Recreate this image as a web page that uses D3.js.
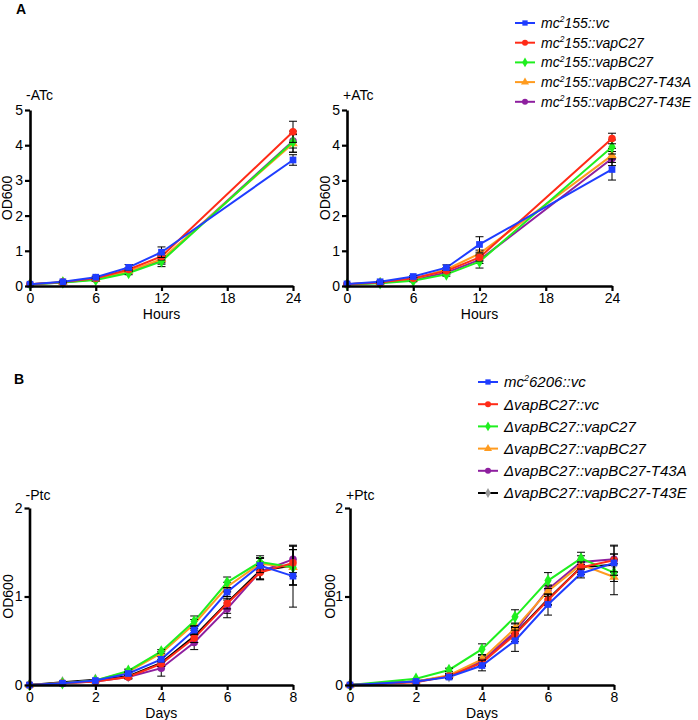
<!DOCTYPE html>
<html><head><meta charset="utf-8">
<script src="https://cdn.jsdelivr.net/npm/d3@7/dist/d3.min.js"></script>
<style>body{margin:0;background:#fff}svg{display:block;font-family:"Liberation Sans",Arial,sans-serif}</style>
</head><body><svg id="c" width="698" height="720"></svg>
<script>
// ---------- DATA ----------
const hoursA = [0, 3, 6, 9, 12, 24];
const daysBminus = [0, 1, 2, 3, 4, 5, 6, 7, 8];
const daysBplus = [0, 2, 3, 4, 5, 6, 7, 8];
const ticksHours = [0, 6, 12, 18, 24];
const ticksOD_A = [0, 1, 2, 3, 4, 5];
const ticksDays = [0, 2, 4, 6, 8];
const ticksOD_B = [0, 1, 2];

const namesA = [["mc", "155::vc"], ["mc", "155::vapC27"], ["mc", "155::vapBC27"], ["mc", "155::vapBC27-T43A"], ["mc", "155::vapBC27-T43E"]];
const namesB = [["mc", "6206::vc"], ["\u0394vapBC27::vc"], ["\u0394vapBC27::vapC27"], ["\u0394vapBC27::vapBC27"], ["\u0394vapBC27::vapBC27-T43A"], ["\u0394vapBC27::vapBC27-T43E"]];

// -ATc
const aMinusVc      = [0.05, 0.12, 0.25, 0.53, 0.96, 3.58];
const aMinusVapC    = [0.05, 0.11, 0.22, 0.47, 0.84, 4.38];
const aMinusVapBC   = [0.04, 0.10, 0.17, 0.37, 0.70, 4.10];
const aMinusT43A    = [0.05, 0.11, 0.20, 0.42, 0.76, 4.05];
const aMinusT43E    = [0.05, 0.10, 0.19, 0.40, 0.72, 4.12];
const aMinusVcErr   = [0.01, 0.02, 0.03, 0.08, 0.15, 0.15];
const aMinusVapCErr = [0.01, 0.02, 0.03, 0.05, 0.10, 0.30];
const aMinusVapBCErr= [0.01, 0.02, 0.03, 0.05, 0.15, 0.30];
const aMinusT43AErr = [0.01, 0.02, 0.03, 0.05, 0.10, 0.25];
const aMinusT43EErr = [0.01, 0.02, 0.03, 0.05, 0.10, 0.20];
// +ATc
const aPlusVc       = [0.06, 0.12, 0.27, 0.52, 1.18, 3.31];
const aPlusVapC     = [0.05, 0.10, 0.22, 0.43, 0.81, 4.19];
const aPlusVapBC    = [0.04, 0.08, 0.15, 0.33, 0.69, 3.95];
const aPlusT43A     = [0.05, 0.10, 0.20, 0.47, 0.92, 3.71];
const aPlusT43E     = [0.05, 0.09, 0.18, 0.38, 0.74, 3.62];
const aPlusVcErr    = [0.01, 0.02, 0.03, 0.08, 0.22, 0.30];
const aPlusVapCErr  = [0.01, 0.02, 0.03, 0.05, 0.10, 0.15];
const aPlusVapBCErr = [0.01, 0.02, 0.03, 0.05, 0.18, 0.20];
const aPlusT43AErr  = [0.01, 0.02, 0.03, 0.05, 0.10, 0.20];
const aPlusT43EErr  = [0.01, 0.02, 0.03, 0.05, 0.10, 0.20];
// -Ptc
const bMinusVc      = [0, 0.02, 0.05, 0.13, 0.29, 0.62, 1.05, 1.35, 1.23];
const bMinusVc2     = [0, 0.02, 0.04, 0.09, 0.24, 0.53, 0.92, 1.27, 1.38];
const bMinusVapC    = [0, 0.02, 0.05, 0.16, 0.38, 0.72, 1.16, 1.39, 1.33];
const bMinusVapBC   = [0, 0.02, 0.05, 0.15, 0.36, 0.69, 1.11, 1.37, 1.33];
const bMinusT43A    = [0, 0.02, 0.04, 0.09, 0.19, 0.48, 0.86, 1.28, 1.42];
const bMinusT43E    = [0, 0.03, 0.06, 0.10, 0.25, 0.55, 0.93, 1.29, 1.35];
const bMinusVcErr   = [0, 0.01, 0.01, 0.02, 0.03, 0.05, 0.05, 0.08, 0.35];
const bMinusVc2Err  = [0, 0.01, 0.01, 0.02, 0.03, 0.05, 0.06, 0.08, 0.15];
const bMinusVapCErr = [0, 0.01, 0.01, 0.02, 0.02, 0.06, 0.06, 0.07, 0.20];
const bMinusVapBCErr= [0, 0.01, 0.01, 0.02, 0.02, 0.05, 0.05, 0.07, 0.20];
const bMinusT43AErr = [0, 0.01, 0.01, 0.02, 0.09, 0.08, 0.10, 0.08, 0.15];
const bMinusT43EErr = [0, 0.01, 0.01, 0.02, 0.04, 0.07, 0.12, 0.10, 0.22];
// +Ptc
const bPlusVc       = [0, 0.04, 0.09, 0.22, 0.50, 0.91, 1.26, 1.38];
const bPlusVc2      = [0, 0.03, 0.10, 0.25, 0.57, 0.96, 1.33, 1.41];
const bPlusVapC     = [0, 0.07, 0.17, 0.405, 0.77, 1.18, 1.43, 1.27];
const bPlusVapBC    = [0, 0.04, 0.11, 0.29, 0.64, 1.06, 1.36, 1.22];
const bPlusT43A     = [0, 0.04, 0.10, 0.27, 0.60, 1.08, 1.39, 1.42];
const bPlusT43E     = [0, 0.04, 0.10, 0.26, 0.58, 0.97, 1.33, 1.36];
const bPlusVcErr    = [0, 0.01, 0.02, 0.06, 0.12, 0.12, 0.05, 0.10];
const bPlusVc2Err   = [0, 0.01, 0.02, 0.04, 0.08, 0.06, 0.06, 0.17];
const bPlusVapCErr  = [0, 0.01, 0.02, 0.06, 0.08, 0.09, 0.07, 0.10];
const bPlusVapBCErr = [0, 0.01, 0.02, 0.04, 0.06, 0.06, 0.05, 0.20];
const bPlusT43AErr  = [0, 0.01, 0.02, 0.04, 0.06, 0.05, 0.07, 0.15];
const bPlusT43EErr  = [0, 0.01, 0.02, 0.04, 0.06, 0.06, 0.08, 0.12];

// ---------- STYLE ----------
const colA = ["#1f3dff", "#ff2b17", "#1fef1f", "#ff9b1f", "#8e1f9f"];
const symA = [d3.symbolSquare, d3.symbolCircle, d3.symbolDiamond, d3.symbolTriangle, d3.symbolCircle];
const colB = ["#1f3dff", "#ff2b17", "#1fef1f", "#ff9b1f", "#8e1f9f", "#000000"];
const symB = [d3.symbolSquare, d3.symbolCircle, d3.symbolDiamond, d3.symbolTriangle, d3.symbolCircle, d3.symbolDiamond];
const markerFillB = ["#1f3dff", "#ff2b17", "#1fef1f", "#ff9b1f", "#8e1f9f", "#9a9a9a"];

const svg = d3.select("#c");

function panel(o) {
  const g = svg.append("g");
  const x = d3.scaleLinear().domain(o.xd).range(o.xr);
  const y = d3.scaleLinear().domain(o.yd).range(o.yr);
  for (let i = o.series.length - 1; i >= 0; i--) {
    const s = o.series[i];
    const pts = s.v.map((v, k) => ({x: o.xs[k], y: v, e: s.e[k]}));
    g.append("path").datum(pts)
      .attr("fill", "none").attr("stroke", s.c).attr("stroke-width", 2)
      .attr("d", d3.line().x(d => x(d.x)).y(d => y(d.y)));
    const eb = g.append("g").attr("stroke", "#000").attr("stroke-width", 1);
    pts.forEach(d => {
      if (d.e > 0.015) {
        eb.append("line").attr("x1", x(d.x)).attr("x2", x(d.x)).attr("y1", y(d.y - d.e)).attr("y2", y(d.y + d.e));
        [d.y - d.e, d.y + d.e].forEach(v => eb.append("line").attr("x1", x(d.x) - 4).attr("x2", x(d.x) + 4).attr("y1", y(v)).attr("y2", y(v)));
      }
    });
    g.append("g").selectAll("path").data(pts).join("path")
      .attr("transform", d => `translate(${x(d.x)},${y(d.y)})`)
      .attr("d", d3.symbol().type(s.sym).size(s.sym === d3.symbolTriangle ? 40 : 45))
      .attr("fill", s.mf || s.c);
  }
  const ax = g.append("g").attr("transform", `translate(0,${o.yr[0]})`)
    .call(d3.axisBottom(x).tickValues(o.xt).tickFormat(d3.format("d")).tickSize(5).tickPadding(2).tickSizeOuter(0));
  const ay = g.append("g").attr("transform", `translate(${o.xr[0]},0)`)
    .call(d3.axisLeft(y).tickValues(o.yt).tickFormat(d3.format("d")).tickSize(5).tickPadding(2).tickSizeOuter(0));
  [ax, ay].forEach(a => {
    a.select(".domain").attr("stroke", "#000").attr("stroke-width", 2.6);
    a.selectAll(".tick line").attr("stroke", "#000").attr("stroke-width", 2.2);
    a.selectAll("text").attr("font-size", 14).attr("fill", "#000").attr("font-family", '"Liberation Sans",Arial,sans-serif');
  });
  g.append("text").attr("x", (o.xr[0] + o.xr[1]) / 2).attr("y", o.xlabY).attr("text-anchor", "middle")
    .attr("font-size", 14).text(o.xlab);
  g.append("text").attr("transform", `translate(${o.ylabX},${(o.yr[0] + o.yr[1]) / 2}) rotate(-90)`)
    .attr("text-anchor", "middle").attr("font-size", 14).text("OD600");
  g.append("text").attr("x", o.xr[0] - 4).attr("y", o.titleY).attr("font-size", 14).text(o.title);
}

function mk(vals, errs, cols, syms, fills) {
  return vals.map((v, i) => ({v, e: errs[i], c: cols[i], sym: syms[i], mf: fills ? fills[i] : null}));
}

panel({xd: [0, 24], xr: [30, 293], yd: [0, 5], yr: [286, 110], xs: hoursA, xt: ticksHours, yt: ticksOD_A,
  xlab: "Hours", xlabY: 319, ylabX: 12, title: "-ATc", titleY: 100,
  series: mk([aMinusVc, aMinusVapC, aMinusVapBC, aMinusT43A, aMinusT43E], [aMinusVcErr, aMinusVapCErr, aMinusVapBCErr, aMinusT43AErr, aMinusT43EErr], colA, symA)});
panel({xd: [0, 24], xr: [347, 612], yd: [0, 5], yr: [286, 110], xs: hoursA, xt: ticksHours, yt: ticksOD_A,
  xlab: "Hours", xlabY: 319, ylabX: 330, title: "+ATc", titleY: 100,
  series: mk([aPlusVc, aPlusVapC, aPlusVapBC, aPlusT43A, aPlusT43E], [aPlusVcErr, aPlusVapCErr, aPlusVapBCErr, aPlusT43AErr, aPlusT43EErr], colA, symA)});
panel({xd: [0, 8], xr: [29.5, 293], yd: [0, 2], yr: [685, 508], xs: daysBminus, xt: ticksDays, yt: ticksOD_B,
  xlab: "Days", xlabY: 718, ylabX: 13, title: "-Ptc", titleY: 500,
  series: mk([bMinusVc, bMinusVc2, bMinusVapC, bMinusVapBC, bMinusT43A, bMinusT43E], [bMinusVcErr, bMinusVc2Err, bMinusVapCErr, bMinusVapBCErr, bMinusT43AErr, bMinusT43EErr], colB, symB, markerFillB)});
panel({xd: [0, 8], xr: [350, 614], yd: [0, 2], yr: [685, 508], xs: daysBplus, xt: ticksDays, yt: ticksOD_B,
  xlab: "Days", xlabY: 718, ylabX: 335, title: "+Ptc", titleY: 500,
  series: mk([bPlusVc, bPlusVc2, bPlusVapC, bPlusVapBC, bPlusT43A, bPlusT43E], [bPlusVcErr, bPlusVc2Err, bPlusVapCErr, bPlusVapBCErr, bPlusT43AErr, bPlusT43EErr], colB, symB, markerFillB)});

// Legends
function legend(names, cols, syms, fills, x0, y0, dy, fs) {
  const g = svg.append("g");
  names.forEach((n, i) => {
    const y = y0 + i * dy;
    g.append("line").attr("x1", x0).attr("x2", x0 + 20).attr("y1", y).attr("y2", y).attr("stroke", cols[i]).attr("stroke-width", 2);
    g.append("path").attr("transform", `translate(${x0 + 10},${y})`).attr("d", d3.symbol().type(syms[i]).size(28)).attr("fill", fills ? fills[i] : cols[i]);
    const t = g.append("text").attr("x", x0 + 26).attr("y", y + fs * 0.36).attr("font-size", fs).attr("font-style", "italic");
    if (n.length === 2) {
      t.append("tspan").text(n[0]);
      t.append("tspan").attr("font-size", fs * 0.6).attr("dy", -fs * 0.4).text("2");
      t.append("tspan").attr("dy", fs * 0.4).text(n[1]);
    } else t.append("tspan").text(n[0]);
  });
}
legend(namesA, colA, symA, null, 515, 23, 19.7, 14);
legend(namesB, colB, symB, markerFillB, 478, 382, 22.2, 15);

svg.append("text").attr("x", 16).attr("y", 14).attr("font-size", 14).attr("font-weight", "bold").text("A");
svg.append("text").attr("x", 14).attr("y", 384).attr("font-size", 14).attr("font-weight", "bold").text("B");
</script></body></html>
